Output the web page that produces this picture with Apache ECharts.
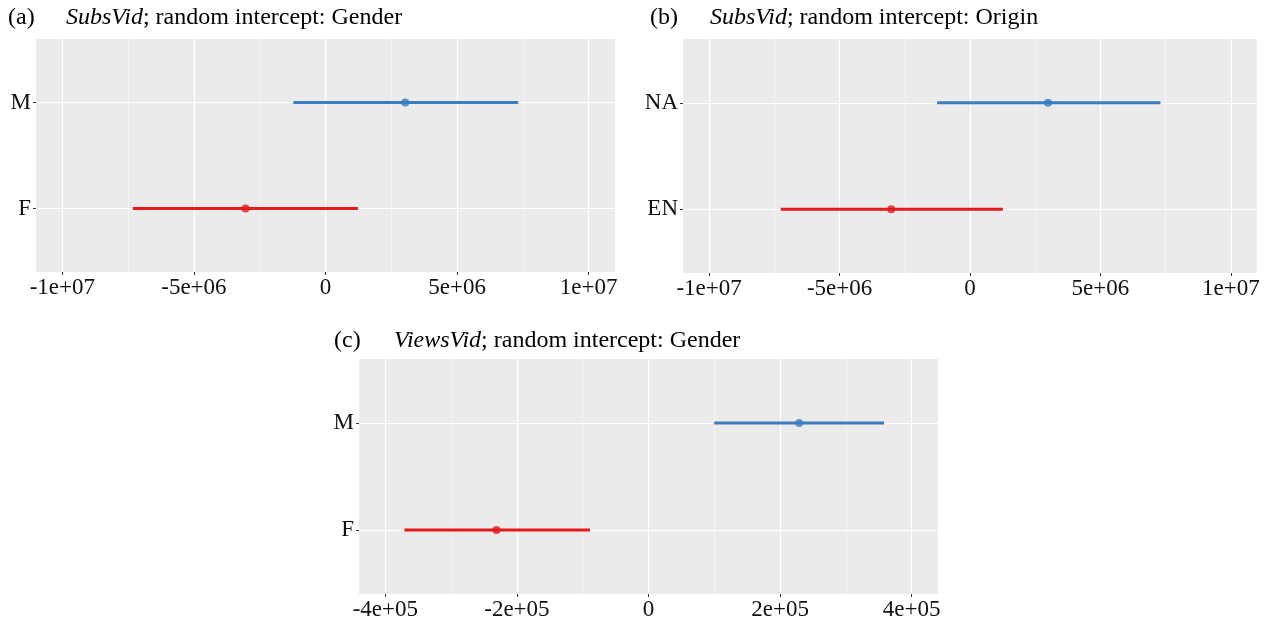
<!DOCTYPE html>
<html>
<head>
<meta charset="utf-8">
<script src="https://cdn.jsdelivr.net/npm/echarts@6/dist/echarts.min.js"></script>
<style>
  html, body { margin: 0; padding: 0; background: #fff; }
  #chart { width: 1271px; height: 623px; }
</style>
</head>
<body>
<div id="chart"></div>
<script>
// panel (a): SubsVid, random intercept Gender
const catA = ['F', 'M'];
const estA = [-3.04e6, 3.03e6];
const lowA = [-7.32e6, -1.22e6];
const highA = [1.23e6, 7.32e6];

// panel (b): SubsVid, random intercept Origin
const catB = ['EN', 'NA'];
const estB = [-3.02e6, 2.99e6];
const lowB = [-7.25e6, -1.26e6];
const highB = [1.26e6, 7.30e6];

// panel (c): ViewsVid, random intercept Gender
const catC = ['F', 'M'];
const estC = [-2.31e5, 2.29e5];
const lowC = [-3.71e5, 1.00e5];
const highC = [-0.89e5, 3.58e5];

// x axis ticks
const ticksAB = [-1e7, -5e6, 0, 5e6, 1e7];
const labelsAB = ['-1e+07', '-5e+06', '0', '5e+06', '1e+07'];
const minorAB = [-7.5e6, -2.5e6, 2.5e6, 7.5e6];
const ticksC = [-4e5, -2e5, 0, 2e5, 4e5];
const labelsC = ['-4e+05', '-2e+05', '0', '2e+05', '4e+05'];
const minorC = [-3e5, -1e5, 1e5, 3e5];

const rowColors = ['#E41A1C', '#3A7DC0'];
const serif = 'Liberation Serif';

const panels = [
  { tag: '(a)', name: 'SubsVid', rest: '; random intercept: Gender', cat: catA, est: estA, low: lowA, high: highA,
    ticks: ticksAB, labels: labelsAB, minor: minorAB, range: 1.1e7,
    grid: { left: 36, top: 39, width: 579, height: 233 }, tagPos: [8, 6], titlePos: [66, 6] },
  { tag: '(b)', name: 'SubsVid', rest: '; random intercept: Origin', cat: catB, est: estB, low: lowB, high: highB,
    ticks: ticksAB, labels: labelsAB, minor: minorAB, range: 1.1e7,
    grid: { left: 683, top: 39, width: 574, height: 234 }, tagPos: [650, 6], titlePos: [710, 6] },
  { tag: '(c)', name: 'ViewsVid', rest: '; random intercept: Gender', cat: catC, est: estC, low: lowC, high: highC,
    ticks: ticksC, labels: labelsC, minor: minorC, range: 4.4e5,
    grid: { left: 359, top: 359, width: 579, height: 235 }, tagPos: [334, 329], titlePos: [394, 329] }
];

const option = { animation: false, title: [], grid: [], xAxis: [], yAxis: [], series: [] };

panels.forEach((p, i) => {
  option.title.push({
    text: p.tag, left: p.tagPos[0], top: p.tagPos[1], padding: 0,
    textStyle: { fontFamily: serif, fontSize: 24, fontWeight: 'normal', color: '#000' }
  });
  option.title.push({
    text: '{i|' + p.name + '}' + p.rest, left: p.titlePos[0], top: p.titlePos[1], padding: 0,
    textStyle: {
      fontFamily: serif, fontSize: 24, fontWeight: 'normal', color: '#000',
      rich: { i: { fontFamily: serif, fontSize: 24, fontStyle: 'italic', color: '#000' } }
    }
  });

  option.grid.push(Object.assign({ show: true, backgroundColor: '#EBEBEB', borderWidth: 0 }, p.grid));

  // main x axis: labels, ticks, major grid
  option.xAxis.push({
    type: 'value', gridIndex: i, min: -p.range, max: p.range,
    axisLine: { show: false, onZero: false },
    axisTick: { show: true, length: 3, lineStyle: { color: '#333' }, customValues: p.ticks },
    axisLabel: {
      customValues: p.ticks, margin: 4, fontFamily: serif, fontSize: 23, color: '#111',
      formatter: v => p.labels[p.ticks.indexOf(v)] ?? ''
    },
    splitLine: { show: true, lineStyle: { color: '#ffffff', width: 1.2 } }
  });
  // hidden x axis for minor grid lines
  option.xAxis.push({
    type: 'value', gridIndex: i, position: 'top', min: -p.range, max: p.range,
    axisLine: { show: false, onZero: false },
    axisTick: { show: false, customValues: p.minor },
    axisLabel: { show: false, customValues: p.minor },
    splitLine: { show: true, lineStyle: { color: '#F7F7F7', width: 0.8 } }
  });

  option.yAxis.push({
    type: 'value', gridIndex: i, min: 0.4, max: 2.6,
    axisLine: { show: false, onZero: false },
    axisTick: { show: true, length: 3, lineStyle: { color: '#333' }, customValues: [1, 2] },
    axisLabel: {
      customValues: [1, 2], margin: 5, fontFamily: serif, fontSize: 23, color: '#111',
      formatter: v => p.cat[v - 1] ?? ''
    },
    splitLine: { show: true, lineStyle: { color: '#ffffff', width: 1.2 } }
  });

  p.cat.forEach((c, j) => {
    option.series.push({
      type: 'line', name: c, xAxisIndex: i * 2, yAxisIndex: i,
      data: [[p.low[j], j + 1], [p.high[j], j + 1]],
      symbol: 'none', lineStyle: { color: rowColors[j], width: 3 }, z: 3
    });
    option.series.push({
      type: 'scatter', name: c, xAxisIndex: i * 2, yAxisIndex: i,
      data: [[p.est[j], j + 1]],
      symbolSize: 8, itemStyle: { color: rowColors[j] }, z: 4
    });
  });
});

const chart = echarts.init(document.getElementById('chart'));
chart.setOption(option);
</script>
</body>
</html>
